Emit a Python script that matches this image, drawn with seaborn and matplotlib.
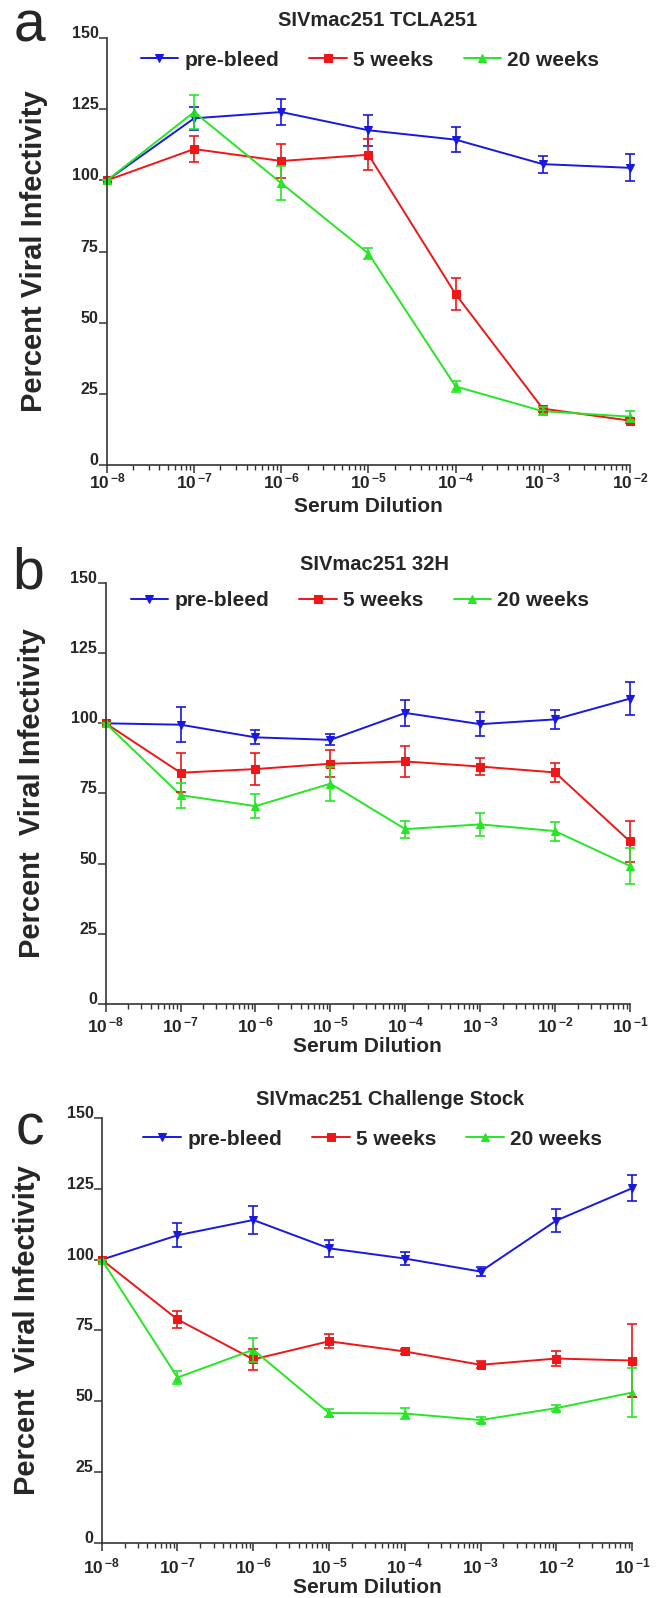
import numpy as np
import pandas as pd
import matplotlib
matplotlib.use("Agg")
import matplotlib.pyplot as plt
import seaborn as sns
from matplotlib.ticker import LogLocator, NullFormatter

sns.set_theme(style="ticks")
plt.rcParams['font.family'] = ['Liberation Sans', 'DejaVu Sans']
plt.rcParams['mathtext.fontset'] = 'custom'
plt.rcParams['mathtext.bf'] = 'Liberation Sans:bold'
plt.rcParams['mathtext.rm'] = 'Liberation Sans'

series_names = ['pre-bleed', '5 weeks', '20 weeks']
palette = {'pre-bleed': '#1818e0', '5 weeks': '#ee1616', '20 weeks': '#26e626'}
markers = {'pre-bleed': 'v', '5 weeks': 's', '20 weeks': '^'}

# panel a: SIVmac251 TCLA251
a_exp = [-8, -7, -6, -5, -4, -3, -2]
a_pre = [100, 121.8, 124.0, 117.6, 114.3, 105.7, 104.4]
a_pre_err = [0, 4.0, 4.5, 5.5, 4.4, 3.0, 4.7]
a_5w = [100, 111.0, 106.8, 109.0, 60.0, 19.8, 15.6]
a_5w_err = [0, 4.5, 5.8, 5.5, 5.6, 1.0, 1.0]
a_20w = [100, 124.0, 99.0, 74.3, 27.6, 18.9, 17.0]
a_20w_err = [0, 6.0, 6.0, 2.0, 2.0, 1.5, 2.0]

# panel b: SIVmac251 32H
b_exp = [-8, -7, -6, -5, -4, -3, -2, -1]
b_pre = [100, 99.5, 95.0, 94.1, 103.7, 99.7, 101.4, 108.8]
b_pre_err = [0, 6.2, 2.5, 2.0, 4.7, 4.2, 3.4, 5.8]
b_5w = [100, 82.4, 83.7, 85.6, 86.4, 84.6, 82.5, 57.9]
b_5w_err = [0, 7.0, 5.6, 4.8, 5.5, 3.0, 3.4, 7.4]
b_20w = [100, 74.4, 70.5, 78.5, 62.3, 64.0, 61.6, 49.2]
b_20w_err = [0, 4.4, 4.2, 6.0, 3.0, 4.0, 3.4, 6.4]

# panel c: SIVmac251 Challenge Stock
c_exp = [-8, -7, -6, -5, -4, -3, -2, -1]
c_pre = [100, 108.6, 114.0, 104.0, 100.4, 95.8, 113.8, 125.2]
c_pre_err = [0, 4.2, 5.0, 3.0, 2.4, 1.6, 4.2, 4.5]
c_5w = [100, 78.9, 64.8, 71.2, 67.6, 62.9, 65.1, 64.4]
c_5w_err = [0, 3.0, 3.7, 2.4, 1.0, 1.2, 2.5, 13.0]
c_20w = [100, 58.4, 68.2, 45.9, 45.7, 43.4, 47.6, 53.1]
c_20w_err = [0, 2.3, 4.2, 1.5, 2.0, 1.0, 1.0, 8.8]

y_ticks = [0, 25, 50, 75, 100, 125, 150]


def draw_panel(ax, exps, vals, errs, title, ylabel, title_x, leg_x, leg_y, xpad, xlab_y):
    rows = []
    for name, v_list, e_list in zip(series_names, vals, errs):
        for e, v, s in zip(exps, v_list, e_list):
            rows.append({'dilution': 10.0 ** e, 'value': v, 'err': s, 'group': name})
    df = pd.DataFrame(rows)

    ax.set_xscale('log')
    sns.lineplot(data=df, x='dilution', y='value', hue='group', style='group',
                 palette=palette, markers=markers, dashes=False,
                 markersize=6, linewidth=1.4, legend=False, ax=ax)
    handles = []
    for line in ax.lines[:3]:
        line.set_markeredgecolor(line.get_color())
        line.set_clip_on(False)
        handles.append(line)
    ax.legend(handles, series_names, loc='center', bbox_to_anchor=(leg_x, leg_y),
              ncol=3, frameon=False, handlelength=1.8, handletextpad=0.3,
              columnspacing=1.45, borderpad=0, prop={'weight': 'bold', 'size': 15})

    for name in series_names:
        sub = df[df['group'] == name]
        eb = ax.errorbar(sub['dilution'], sub['value'], yerr=sub['err'], fmt='none',
                         ecolor=palette[name], elinewidth=1.2, capsize=3.5, capthick=1.2)
        for art in eb.lines[1] + eb.lines[2]:
            art.set_clip_on(False)

    ax.set_xlim(10.0 ** exps[0], 10.0 ** exps[-1])
    ax.set_ylim(0, 150)
    ax.set_yticks(y_ticks)
    ax.set_yticklabels([str(t) for t in y_ticks], fontweight='bold', fontsize=11.5)
    for lab in ax.get_yticklabels():
        lab.set_va('baseline')
    ax.set_xticks([10.0 ** e for e in exps])
    ax.set_xticklabels([r'$\mathbf{10^{\,{-%d}}}$' % abs(e) for e in exps], fontsize=12.5)
    ax.xaxis.set_minor_locator(LogLocator(base=10, subs=np.arange(2, 10), numticks=20))
    ax.xaxis.set_minor_formatter(NullFormatter())
    ax.tick_params(axis='both', which='major', length=6, width=1.1, color='#333333')
    ax.tick_params(axis='x', which='minor', length=3.5, width=1.0, color='#333333')
    ax.tick_params(axis='x', pad=xpad)
    ax.tick_params(axis='y', pad=0)
    for s in ['top', 'right']:
        ax.spines[s].set_visible(False)
    for s in ['left', 'bottom']:
        ax.spines[s].set_linewidth(1.2)
        ax.spines[s].set_color('#333333')
    ax.set_title(title, fontsize=14.5, fontweight='bold', pad=9, x=title_x)
    ax.set_xlabel('Serum Dilution', fontsize=15, fontweight='bold')
    ax.xaxis.set_label_coords(0.5, xlab_y)
    ax.xaxis.label.set_va('center')
    ax.set_ylabel(ylabel, fontsize=21, fontweight='bold')
    ax.yaxis.set_label_coords(-0.14, 0.5)
    ax.yaxis.label.set_va('center')


fig = plt.figure(figsize=(6.58, 15.98), dpi=100)
ax_a = fig.add_axes([0.1626, 0.7090, 0.7948, 0.2672])
ax_b = fig.add_axes([0.1606, 0.3717, 0.7968, 0.2635])
ax_c = fig.add_axes([0.1546, 0.0344, 0.8060, 0.2660])

draw_panel(ax_a, a_exp, [a_pre, a_5w, a_20w], [a_pre_err, a_5w_err, a_20w_err],
           'SIVmac251 TCLA251', 'Percent Viral Infectivity',
           0.518, 0.503, 0.948, -1, -0.096)
draw_panel(ax_b, b_exp, [b_pre, b_5w, b_20w], [b_pre_err, b_5w_err, b_20w_err],
           'SIVmac251 32H', 'Percent  Viral Infectivity',
           0.513, 0.485, 0.958, 2, -0.101)
draw_panel(ax_c, c_exp, [c_pre, c_5w, c_20w], [c_pre_err, c_5w_err, c_20w_err],
           'SIVmac251 Challenge Stock', 'Percent  Viral Infectivity',
           0.543, 0.511, 0.950, 4, -0.105)

fig.text(0.044, 0.974, 'a', fontsize=41, ha='center', va='baseline')
fig.text(0.043, 0.632, 'b', fontsize=41, ha='center', va='baseline')
fig.text(0.045, 0.284, 'c', fontsize=41, ha='center', va='baseline')

fig.savefig('out.png', dpi=100, facecolor='white')
